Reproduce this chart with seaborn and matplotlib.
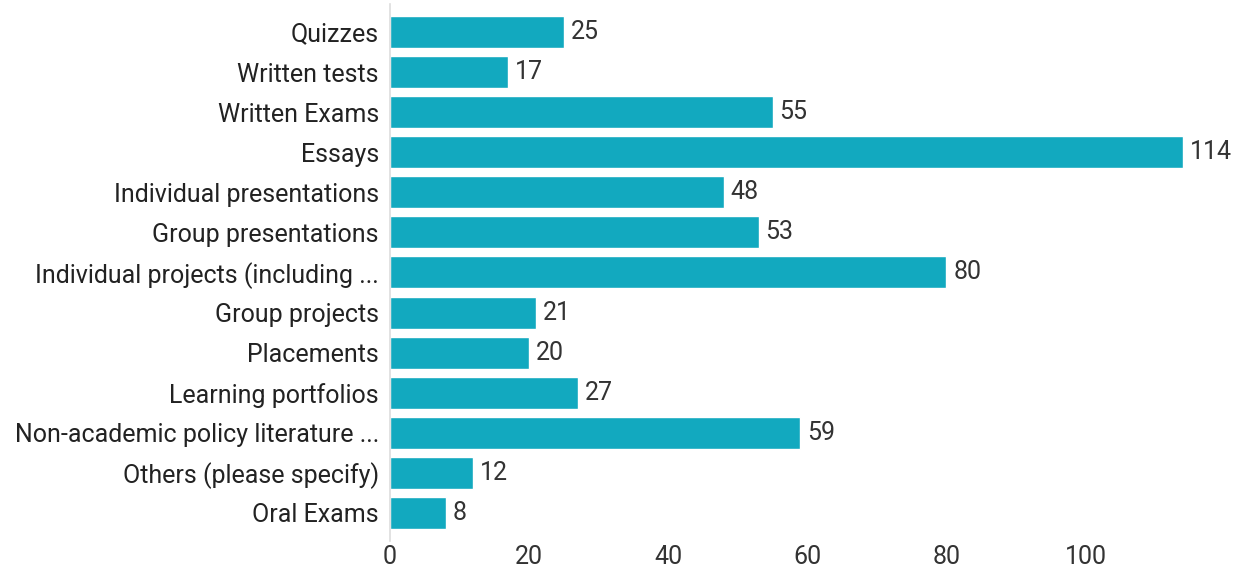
import matplotlib
matplotlib.use("Agg")
import matplotlib.pyplot as plt
import seaborn as sns
import pandas as pd

categories = [
    "Quizzes",
    "Written tests",
    "Written Exams",
    "Essays",
    "Individual presentations",
    "Group presentations",
    "Individual projects (including ...",
    "Group projects",
    "Placements",
    "Learning portfolios",
    "Non-academic policy literature ...",
    "Others (please specify)",
    "Oral Exams",
]
counts = [25, 17, 55, 114, 48, 53, 80, 21, 20, 27, 59, 12, 8]
x_ticks = [0, 20, 40, 60, 80, 100]

sns.set_theme(style="white")
plt.rcParams["font.family"] = ["Roboto", "DejaVu Sans"]

df = pd.DataFrame({"method": categories, "count": counts})

fig = plt.figure(figsize=(12.48, 5.73), dpi=100)
ax = fig.add_axes([0.3125, 0.056, 0.68, 0.937])

bar_color = "#12A9BF"
sns.barplot(data=df, x="count", y="method", orient="h", color=bar_color,
            width=0.8, saturation=1, ax=ax)

for i, v in enumerate(counts):
    ax.text(v + 1, i, str(v), va="center", ha="left", fontsize=18, color="#333333")

ax.set_xlim(0, 122)
ax.set_ylim(12.7, -0.7)
ax.set_xticks(x_ticks)
ax.set_xlabel("")
ax.set_ylabel("")
ax.tick_params(axis="x", labelsize=18, colors="#333333", length=0, pad=3)
ax.tick_params(axis="y", labelsize=18, colors="#222222", length=0, pad=8)

for side in ["top", "right", "bottom"]:
    ax.spines[side].set_visible(False)
ax.spines["left"].set_color("#dddddd")
ax.spines["left"].set_linewidth(1.2)

fig.savefig("out.png", dpi=100)
